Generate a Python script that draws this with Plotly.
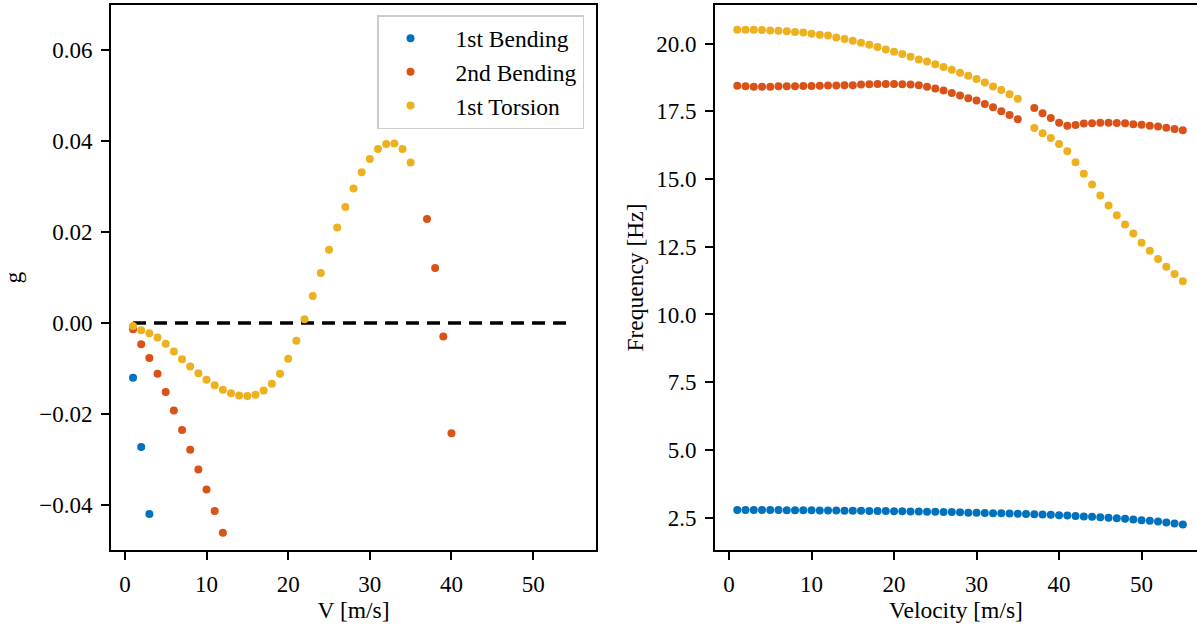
import plotly.graph_objects as go

# ---------------- data ----------------
series_names = ["1st Bending", "2nd Bending", "1st Torsion"]
colors = ["#0072BD", "#D95319", "#EDB120"]

# Left panel: damping g vs V (only the tracked points)
V_g_bend1 = [1, 2, 3]
g_bend1 = [-0.0121, -0.0273, -0.0421]

V_g_bend2 = [1, 2, 3, 4, 5, 6, 7, 8, 9, 10, 11, 12, 37, 38, 39, 40]
g_bend2 = [-0.0014, -0.0047, -0.0077, -0.0112, -0.0152, -0.0193, -0.0236, -0.0279,
           -0.0323, -0.0367, -0.0414, -0.0462, 0.0229, 0.0121, -0.0030, -0.0243]

V_g_tors1 = list(range(1, 36))
g_tors1 = [-0.0007, -0.0016, -0.0023, -0.0032, -0.0046, -0.0063, -0.0080, -0.0096,
           -0.0111, -0.0125, -0.0137, -0.0147, -0.0155, -0.0160, -0.0161, -0.0158,
           -0.0149, -0.0134, -0.0112, -0.0079, -0.0039, 0.0008, 0.0059, 0.0110,
           0.0161, 0.0210, 0.0255, 0.0296, 0.0332, 0.0361, 0.0383, 0.0394, 0.0395,
           0.0383, 0.0353]

# Right panel: frequency vs velocity
V = list(range(1, 56))
f_bend1 = [2.78, 2.78, 2.78, 2.78, 2.78, 2.78, 2.77, 2.77, 2.77, 2.77,
           2.76, 2.76, 2.76, 2.75, 2.75, 2.75, 2.74, 2.74, 2.74, 2.73,
           2.73, 2.72, 2.72, 2.71, 2.71, 2.70, 2.70, 2.69, 2.68, 2.68,
           2.67, 2.66, 2.66, 2.65, 2.64, 2.63, 2.62, 2.61, 2.60, 2.58,
           2.57, 2.56, 2.54, 2.53, 2.51, 2.49, 2.47, 2.45, 2.43, 2.40,
           2.38, 2.35, 2.32, 2.28, 2.24]
f_bend2 = [18.45, 18.43, 18.41, 18.41, 18.41, 18.43, 18.43, 18.43, 18.44, 18.44,
           18.45, 18.46, 18.46, 18.47, 18.47, 18.49, 18.50, 18.51, 18.51, 18.51,
           18.50, 18.49, 18.47, 18.41, 18.35, 18.27, 18.18, 18.09, 17.99, 17.90,
           17.77, 17.65, 17.51, 17.37, 17.21, None,
           17.63, 17.43, 17.26, 17.08, 16.97, 17.00, 17.05, 17.06, 17.08, 17.08,
           17.07, 17.06, 17.03, 17.01, 16.97, 16.94, 16.90, 16.85, 16.80]
f_tors1 = [20.52, 20.52, 20.52, 20.51, 20.49, 20.48, 20.46, 20.43, 20.41, 20.37,
           20.33, 20.30, 20.23, 20.17, 20.11, 20.04, 19.96, 19.88, 19.79, 19.70,
           19.62, 19.52, 19.42, 19.34, 19.24, 19.14, 19.04, 18.93, 18.82, 18.70,
           18.57, 18.42, 18.29, 18.13, 17.97, None,
           16.89, 16.69, 16.52, 16.30, 16.03, 15.62, 15.20, 14.80, 14.39, 14.02,
           13.66, 13.32, 12.99, 12.65, 12.35, 12.05, 11.76, 11.49, 11.23]

# ---------------- figure ----------------
FONT = "Liberation Serif"
TICK_FS = 23
TITLE_FS = 23.5
LEGEND_FS = 23.5
MS = 8

fig = go.Figure()

# zero reference line on the left panel
fig.add_trace(go.Scatter(x=[V[0], V[-1]], y=[0, 0], mode="lines",
                         line=dict(color="black", width=3.5, dash="13px,8px"),
                         showlegend=False, hoverinfo="skip", xaxis="x", yaxis="y"))

left_sets = [(V_g_bend1, g_bend1), (V_g_bend2, g_bend2), (V_g_tors1, g_tors1)]
for i, (xs, ys) in enumerate(left_sets):
    fig.add_trace(go.Scatter(x=xs, y=ys, mode="markers", name=series_names[i],
                             marker=dict(color=colors[i], size=MS),
                             legendgroup=series_names[i],
                             xaxis="x", yaxis="y"))

right_sets = [f_bend1, f_bend2, f_tors1]
for i, ys in enumerate(right_sets):
    fig.add_trace(go.Scatter(x=V, y=ys, mode="markers", name=series_names[i],
                             marker=dict(color=colors[i], size=MS),
                             showlegend=False, xaxis="x2", yaxis="y2"))

axis_common = dict(showline=True, linecolor="black", linewidth=2,
                   ticks="outside", ticklen=8, tickwidth=1.6, tickcolor="black",
                   showgrid=False, zeroline=False, ticklabelstandoff=4,
                   tickfont=dict(family=FONT, size=TICK_FS, color="black"))


def ttl(text, standoff):
    return dict(text=text, standoff=standoff,
                font=dict(family=FONT, size=TITLE_FS, color="black"))


L = 111
PW = 1197 - L

fig.update_layout(
    template="none",
    width=1197, height=630,
    margin=dict(l=L, r=0, t=5, b=80, autoexpand=False),
    paper_bgcolor="white", plot_bgcolor="white",
    font=dict(family=FONT, size=TICK_FS, color="black"),
    xaxis=dict(domain=[0, (596 - L) / PW], range=[-1.7, 57.7], anchor="y", dtick=10, tick0=0,
               mirror=True, title=ttl("V [m/s]", 6), **axis_common),
    yaxis=dict(domain=[0, 1], range=[-0.05, 0.07], anchor="x", dtick=0.02, tick0=0,
               tickformat=".2f", mirror=True, title=ttl("g", 23), **axis_common),
    xaxis2=dict(domain=[(715 - L) / PW, 1], range=[-1.7, 56.72], anchor="y2", dtick=10, tick0=0,
                mirror=True, title=ttl("Velocity [m/s]", 6), **axis_common),
    yaxis2=dict(domain=[0, 1], range=[1.3, 21.43], anchor="x2", dtick=2.5, tick0=0,
                tickformat=".1f", title=ttl("Frequency [Hz]", 6), **axis_common),
    legend=dict(x=(584 - L) / PW, xanchor="right", y=(550 - 15) / 545, yanchor="top",
                bgcolor="white", bordercolor="#cccccc", borderwidth=1.5,
                font=dict(family=FONT, size=LEGEND_FS, color="black"),
                itemwidth=80, indentation=-13, tracegroupgap=0),
)

fig.write_html("out.html", config={"displayModeBar": False},
               post_script="document.body.style.margin='0px';")
